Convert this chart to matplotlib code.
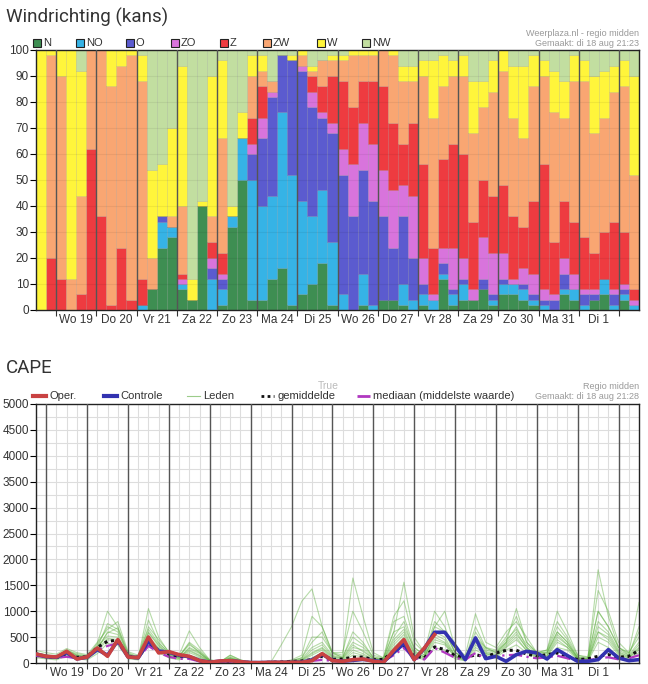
import numpy as np
import matplotlib
matplotlib.use("Agg")
import matplotlib.pyplot as plt
from matplotlib.patches import Rectangle
from matplotlib.lines import Line2D

plt.rcParams["font.family"] = ["Liberation Sans", "DejaVu Sans"]

# ---- windrichting: kans (%) per 6-uurs blok, 60 blokken ----
richtingen = ["N", "NO", "O", "ZO", "Z", "ZW", "W", "NW"]
kleuren = ["#3e8e52", "#36b3e6", "#5b5bcf", "#d874dc", "#ee3b40", "#f9a672", "#fff53b", "#c2dea0"]

kans_n = [0, 0, 0, 0, 0, 0, 0, 0, 0, 0,
          0, 8, 24, 28, 8, 4, 40, 0, 2, 32,
          50, 4, 4, 12, 16, 2, 6, 10, 18, 2,
          0, 0, 2, 0, 4, 4, 2, 0, 2, 0,
          12, 2, 4, 4, 8, 2, 6, 6, 4, 2,
          0, 0, 6, 4, 0, 4, 6, 0, 4, 0]
kans_no = [0, 0, 0, 0, 0, 0, 0, 0, 0, 0,
           2, 0, 10, 4, 2, 0, 0, 12, 6, 4,
           16, 46, 36, 32, 60, 50, 36, 26, 28, 24,
           6, 0, 12, 2, 0, 0, 8, 4, 4, 4,
           2, 4, 6, 0, 0, 2, 4, 4, 4, 2,
           2, 0, 2, 4, 2, 0, 6, 2, 2, 2]
kans_o = [0, 0, 0, 0, 0, 0, 0, 0, 0, 0,
          0, 0, 2, 0, 0, 0, 0, 4, 4, 0,
          0, 10, 26, 38, 22, 44, 50, 42, 28, 42,
          46, 36, 40, 40, 32, 20, 26, 16, 4, 0,
          4, 2, 2, 0, 4, 2, 2, 0, 2, 2,
          2, 4, 6, 0, 4, 2, 0, 4, 2, 0]
kans_zo = [0, 0, 0, 0, 0, 0, 0, 0, 0, 0,
           0, 0, 0, 0, 2, 0, 0, 4, 2, 0,
           0, 4, 8, 2, 0, 0, 2, 6, 2, 4,
           10, 20, 18, 22, 18, 22, 12, 24, 10, 2,
           6, 16, 8, 4, 16, 16, 10, 2, 6, 8,
           4, 2, 6, 6, 2, 2, 0, 2, 2, 2]
kans_z = [0, 20, 12, 0, 6, 62, 36, 2, 24, 4,
          10, 0, 0, 0, 2, 0, 0, 6, 8, 0,
          0, 10, 12, 0, 0, 0, 0, 6, 10, 18,
          26, 22, 16, 24, 32, 26, 16, 28, 36, 18,
          34, 40, 40, 26, 22, 22, 26, 24, 16, 28,
          48, 20, 22, 20, 20, 14, 18, 26, 20, 4]
kans_zw = [0, 78, 78, 12, 38, 38, 64, 84, 70, 94,
           76, 12, 0, 4, 26, 0, 0, 10, 44, 0,
           0, 16, 6, 4, 0, 0, 4, 2, 10, 6,
           8, 20, 10, 10, 14, 26, 24, 16, 34, 50,
           28, 26, 30, 34, 28, 40, 44, 38, 34, 44,
           34, 50, 32, 54, 60, 46, 44, 50, 56, 44]
kans_w = [100, 2, 10, 88, 48, 0, 0, 14, 6, 2,
          10, 34, 20, 34, 54, 8, 2, 54, 30, 4,
          10, 8, 6, 0, 0, 2, 2, 2, 0, 2,
          2, 2, 2, 2, 0, 2, 6, 6, 6, 22,
          12, 6, 8, 20, 10, 12, 8, 20, 28, 12,
          6, 16, 14, 10, 8, 22, 18, 10, 10, 38]
kans_nw = [0, 0, 0, 0, 8, 0, 0, 0, 0, 0,
           2, 46, 44, 30, 6, 88, 58, 10, 4, 60,
           24, 2, 2, 12, 2, 2, 0, 6, 4, 2,
           2, 0, 0, 0, 0, 0, 6, 6, 4, 4,
           2, 4, 2, 12, 12, 4, 0, 6, 6, 2,
           4, 8, 12, 2, 4, 10, 8, 6, 4, 10]

dagen = ["Wo 19", "Do 20", "Vr 21", "Za 22", "Zo 23", "Ma 24", "Di 25",
         "Wo 26", "Do 27", "Vr 28", "Za 29", "Zo 30", "Ma 31", "Di 1"]

# ---- CAPE (J/kg), 6-uurs waarden vanaf di 18 aug 18 uur ----
cape_oper = [174, 129, 116, 226, 77, 116, 290, 129, 452, 116,
             103, 503, 194, 219, 161, 129, 45, 13, 39, 45,
             26, 6, 6, 13, 13, 13, 13, 45, 181, 45,
             32, 65, 77, 32, 13, 245, 452, 65, 290, 548]
cape_controle = [170, 125, 110, 200, 80, 110, 260, 150, 430, 120,
                 100, 420, 230, 210, 150, 120, 50, 15, 35, 45,
                 25, 8, 8, 12, 12, 12, 15, 60, 170, 50,
                 35, 50, 70, 45, 20, 200, 374, 65, 280, 593,
                 593, 335, 65, 484, 84, 129, 32, 161, 226, 194,
                 77, 258, 142, 32, 32, 65, 258, 97, 45, 65]
cape_gemiddelde = [150, 120, 110, 140, 110, 120, 300, 420, 440, 130,
                   110, 360, 250, 150, 130, 120, 40, 20, 30, 30,
                   20, 10, 10, 15, 20, 30, 40, 65, 130, 70,
                   77, 110, 116, 65, 70, 226, 335, 130, 100, 310,
                   258, 142, 97, 161, 116, 194, 245, 245, 174, 129,
                   161, 194, 129, 65, 80, 130, 161, 110, 129, 245]
cape_mediaan = [140, 110, 100, 120, 90, 110, 250, 330, 380, 110,
                90, 330, 200, 120, 80, 80, 30, 10, 20, 20,
                10, 5, 5, 8, 10, 15, 20, 40, 60, 40,
                40, 60, 70, 40, 40, 150, 290, 90, 70, 290,
                200, 100, 60, 194, 80, 130, 150, 160, 120, 90,
                110, 140, 90, 40, 50, 90, 110, 70, 90, 150]

lid_01 = [200, 150, 120, 260, 150, 120, 380, 1000, 700, 200,
          120, 830, 400, 180, 120, 380, 200, 40, 20, 150,
          60, 10, 0, 20, 350, 700, 1190, 1430, 700, 200,
          150, 1640, 900, 200, 100, 600, 1560, 500, 200, 1000,
          700, 200, 100, 500, 300, 200, 400, 1050, 400, 200,
          200, 600, 400, 100, 80, 1800, 900, 300, 150, 700]
lid_02 = [180, 120, 100, 200, 130, 100, 300, 760, 650, 150,
          100, 1050, 500, 200, 150, 620, 300, 60, 30, 100,
          40, 5, 0, 5, 20, 60, 150, 900, 700, 200,
          200, 1000, 600, 150, 100, 900, 1200, 400, 200, 700,
          1000, 300, 150, 950, 400, 300, 600, 800, 500, 200,
          250, 1000, 600, 150, 120, 1400, 1000, 400, 200, 1170]
lid_03 = [160, 130, 110, 220, 160, 110, 350, 700, 600, 170,
          120, 700, 450, 220, 130, 400, 250, 50, 20, 100,
          40, 5, 0, 5, 10, 40, 100, 500, 500, 200,
          100, 600, 400, 100, 80, 800, 900, 300, 150, 800,
          600, 200, 80, 700, 300, 250, 500, 900, 400, 200,
          250, 800, 500, 150, 100, 1000, 700, 300, 200, 500]
lid_04 = [140, 100, 90, 180, 120, 90, 250, 600, 550, 120,
          80, 600, 350, 150, 100, 300, 200, 30, 10, 80,
          30, 0, 0, 0, 10, 30, 80, 300, 400, 150,
          100, 400, 300, 100, 60, 500, 800, 250, 100, 600,
          500, 150, 60, 500, 250, 200, 400, 700, 300, 150,
          200, 600, 400, 100, 80, 800, 600, 250, 150, 400]
lid_05 = [200, 160, 140, 240, 180, 140, 320, 520, 500, 160,
          120, 500, 300, 160, 110, 250, 150, 40, 20, 150,
          60, 10, 0, 10, 20, 40, 60, 200, 300, 120,
          80, 300, 250, 80, 50, 400, 600, 200, 120, 500,
          400, 150, 80, 400, 200, 150, 350, 550, 300, 150,
          150, 500, 350, 100, 60, 600, 500, 200, 120, 300]
lid_06 = [120, 90, 80, 160, 100, 80, 220, 450, 420, 100,
          70, 450, 250, 120, 80, 200, 120, 20, 10, 60,
          20, 0, 0, 0, 5, 20, 40, 150, 250, 80,
          50, 200, 150, 60, 40, 300, 500, 150, 80, 400,
          350, 120, 50, 300, 180, 120, 300, 450, 250, 120,
          120, 400, 300, 80, 50, 500, 400, 150, 100, 250]
lid_07 = [240, 200, 170, 280, 200, 160, 400, 650, 800, 220,
          150, 650, 380, 200, 140, 350, 220, 60, 30, 120,
          50, 10, 5, 10, 30, 50, 100, 400, 600, 180,
          120, 500, 350, 120, 80, 600, 700, 300, 150, 700,
          600, 200, 100, 600, 280, 220, 450, 650, 350, 180,
          220, 700, 450, 120, 90, 1000, 700, 300, 180, 600]
lid_08 = [100, 80, 60, 140, 80, 60, 180, 380, 350, 80,
          60, 380, 200, 100, 60, 150, 100, 20, 10, 40,
          10, 0, 0, 0, 0, 10, 30, 100, 200, 60,
          40, 150, 120, 40, 30, 250, 400, 120, 60, 300,
          250, 80, 40, 250, 150, 100, 250, 350, 200, 100,
          100, 300, 250, 60, 40, 400, 300, 120, 80, 200]
lid_09 = [190, 140, 130, 230, 140, 130, 300, 580, 680, 180,
          110, 580, 330, 170, 100, 280, 180, 50, 20, 90,
          40, 5, 0, 5, 10, 30, 60, 250, 350, 130,
          90, 350, 220, 90, 60, 450, 650, 220, 120, 550,
          450, 130, 70, 450, 220, 170, 380, 600, 280, 140,
          180, 550, 350, 90, 70, 700, 550, 220, 130, 350]
lid_10 = [150, 110, 90, 200, 110, 100, 260, 480, 450, 140,
          90, 480, 280, 130, 90, 230, 140, 30, 10, 70,
          30, 0, 0, 0, 5, 15, 50, 180, 280, 100,
          60, 250, 180, 70, 40, 350, 550, 180, 90, 450,
          380, 110, 50, 350, 180, 130, 320, 500, 230, 110,
          140, 450, 300, 70, 50, 600, 450, 180, 100, 280]
leden = [lid_01, lid_02, lid_03, lid_04, lid_05, lid_06, lid_07, lid_08, lid_09, lid_10]

W, H = 648, 684
fig = plt.figure(figsize=(W / 100, H / 100), dpi=100)


def fy(py):
    return 1 - py / H


def ax_rect(x0, x1, y_top, y_bot):
    return [x0 / W, fy(y_bot), (x1 - x0) / W, (y_bot - y_top) / H]


dag_uren = np.arange(0, 15 * 24, 24)
label_uren = np.arange(12, 14 * 24, 24)
tekst = "#333333"
grijs = "#999999"


def tijdas(ax):
    ax.set_xticks(dag_uren)
    ax.set_xticklabels([])
    ax.set_xticks(label_uren, minor=True)
    ax.set_xticklabels(dagen, minor=True, fontsize=8.5, color=tekst)
    ax.tick_params(axis="x", which="major", length=4, color="#333333")
    ax.tick_params(axis="x", which="minor", length=0, pad=3)
    ax.tick_params(axis="y", length=4, labelsize=8.5, labelcolor=tekst, pad=1)
    for u in dag_uren:
        ax.axvline(u, color="#555555", lw=1.0, zorder=4)
    for s in ax.spines.values():
        s.set_color("#222222")
        s.set_linewidth(1.0)


# ---------------- Windrichting ----------------
ax1 = fig.add_axes(ax_rect(36, 639, 50, 310))
bar_uren = np.arange(-12, 348, 6)
reeksen = [kans_n, kans_no, kans_o, kans_zo, kans_z, kans_zw, kans_w, kans_nw]
onder = np.zeros(len(bar_uren))
for naam, kleur, vals in zip(richtingen, kleuren, reeksen):
    vals = np.array(vals, dtype=float)
    ax1.bar(bar_uren, vals, width=6, bottom=onder, align="edge", color=kleur,
            edgecolor=(0, 0, 0, 0.10), linewidth=0.5, zorder=2)
    onder += vals
for yv in range(10, 100, 10):
    ax1.axhline(yv, color=(0, 0, 0, 0.06), lw=0.8, zorder=3)
ax1.set_xlim(-12, 348)
ax1.set_ylim(0, 100)
ax1.set_yticks(range(0, 101, 10))
tijdas(ax1)

fig.text(6 / W, fy(17), "Windrichting (kans)", family=["Roboto", "DejaVu Sans"],
         fontsize=13.5, color=tekst, va="center", ha="left")
leg_x = [33, 76, 126, 171, 220, 263, 317, 362]
for naam, kleur, lx in zip(richtingen, kleuren, leg_x):
    fig.add_artist(Rectangle((lx / W, fy(47)), 8 / W, 8 / H, transform=fig.transFigure,
                             facecolor=kleur, edgecolor="#222222", lw=0.8))
    fig.text((lx + 10) / W, fy(43), naam, fontsize=8, color=tekst, va="center", ha="left")
fig.text(639 / W, fy(33), "Weerplaza.nl - regio midden", fontsize=6.5, color=grijs,
         ha="right", va="center")
fig.text(639 / W, fy(44), "Gemaakt: di 18 aug 21:23", fontsize=6.5, color=grijs,
         ha="right", va="center")

# ---------------- CAPE ----------------
ax2 = fig.add_axes(ax_rect(36, 639, 404, 663))
cape_uren = np.arange(-6, 354, 6)
for u in np.arange(-6, 348, 6):
    ax2.axvline(u, color="#dddddd", lw=0.8, zorder=1)
for yv in range(250, 5000, 250):
    ax2.axhline(yv, color="#dddddd", lw=0.8, zorder=1)
for lid in leden:
    ax2.plot(cape_uren, lid, color="#5fb040", lw=0.8, alpha=0.45, zorder=2)
ax2.plot(cape_uren, cape_gemiddelde, color="#111111", lw=2.2, ls=(0, (1, 1.2)), zorder=3)
ax2.plot(cape_uren, cape_mediaan, color="#b038c0", lw=1.6, ls=(0, (6, 2, 1, 2)), zorder=3)
ax2.plot(cape_uren, cape_controle, color="#3232b0", lw=2.6, zorder=4)
ax2.plot(cape_uren[:len(cape_oper)], cape_oper, color="#c94242", lw=2.6, zorder=5)
ax2.set_xlim(-6, 348)
ax2.set_ylim(0, 5000)
ax2.set_yticks(range(0, 5001, 500))
tijdas(ax2)

fig.text(6 / W, fy(368), "CAPE", family=["Roboto", "DejaVu Sans"],
         fontsize=13.5, color=tekst, va="center", ha="left")
items = [
    (33, "Oper.", dict(color="#c94242", lw=3)),
    (104, "Controle", dict(color="#3232b0", lw=3)),
    (187, "Leden", dict(color="#9ccc8a", lw=0.8)),
    (261, "gemiddelde", dict(color="#111111", lw=2, ls=(0, (1, 1.2)))),
    (357, "mediaan (middelste waarde)", dict(color="#b038c0", lw=2, ls=(0, (5, 2, 1, 2)))),
]
for lx, naam, stijl in items:
    fig.add_artist(Line2D([lx / W, (lx + 13) / W], [fy(396), fy(396)],
                          transform=fig.transFigure, **stijl))
    fig.text((lx + 16) / W, fy(396), naam, fontsize=8, color=tekst, va="center", ha="left")
fig.text(328 / W, fy(386), "True", fontsize=7.5, color="#aaaaaa", alpha=0.8,
         ha="center", va="center")
fig.text(639 / W, fy(386), "Regio midden", fontsize=6.5, color=grijs, ha="right", va="center")
fig.text(639 / W, fy(397), "Gemaakt: di 18 aug 21:28", fontsize=6.5, color=grijs,
         ha="right", va="center")

fig.savefig("out.png", dpi=100)
plt.close(fig)
